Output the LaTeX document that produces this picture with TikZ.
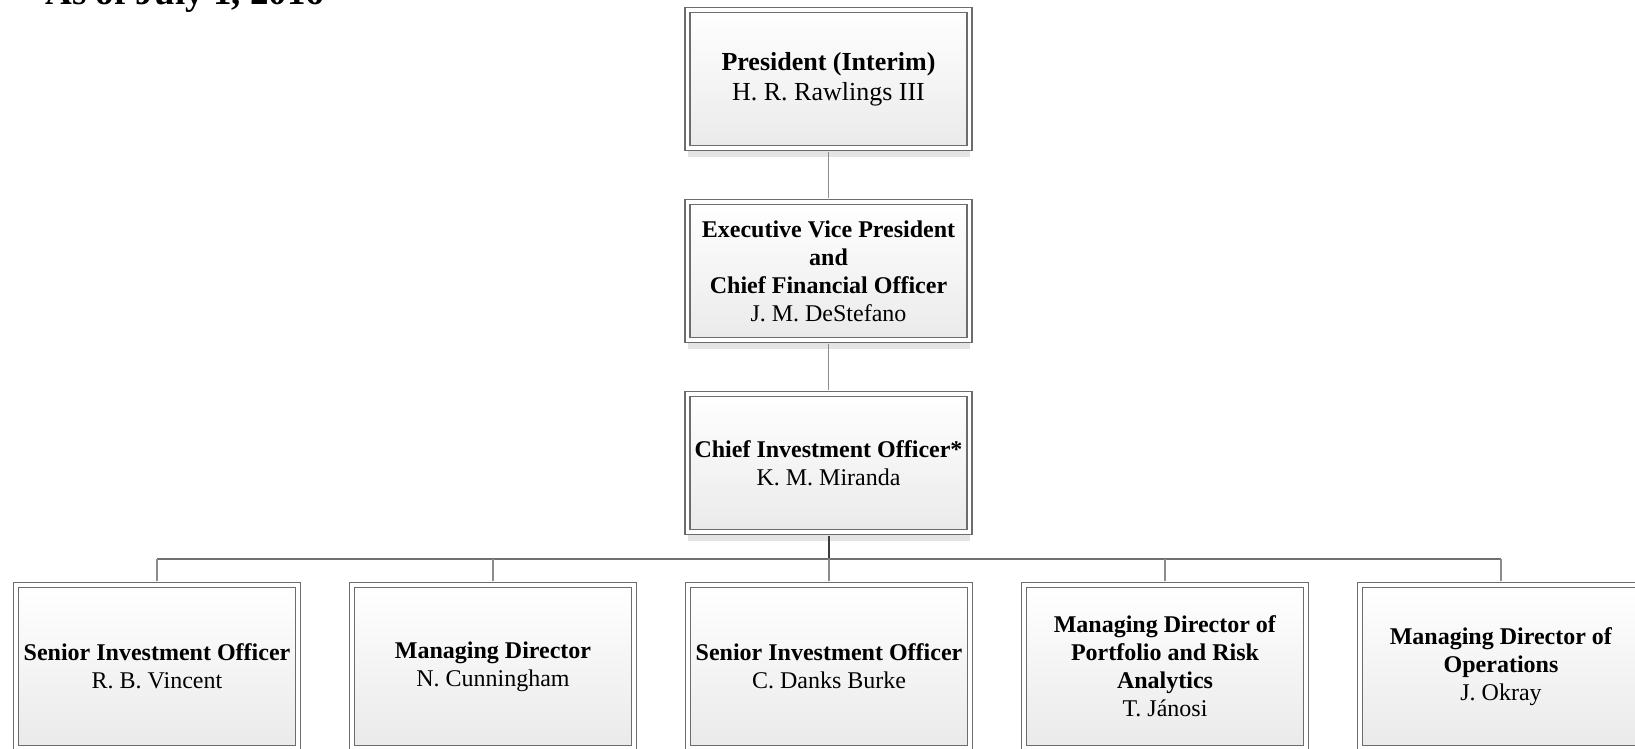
\documentclass[tikz,border=0pt]{standalone}
\usepackage{fontspec}
\setmainfont{Liberation Serif}
\usetikzlibrary{shadows}
\definecolor{boxline}{RGB}{108,108,108}
\definecolor{shadowgray}{RGB}{228,228,228}
\definecolor{fillbot}{RGB}{234,234,234}
\definecolor{connlight}{RGB}{140,140,140}
\definecolor{conndark}{RGB}{60,60,60}
\definecolor{barcol}{RGB}{112,112,112}
\begin{document}
\begin{tikzpicture}[x=1pt,y=-1pt,
  orgbox/.style={draw=boxline, double=white, double distance=3.5pt, line width=1.5pt,
    top color=white, bottom color=fillbot, minimum width=282pt, inner sep=0pt, align=center,
    general shadow={fill=shadowgray, shadow yshift=-9pt}},
  upperbox/.style={orgbox, minimum height=138pt, font=\fontsize{24}{28}\selectfont},
  lowerbox/.style={orgbox, minimum height=163pt, font=\fontsize{24}{28}\selectfont},
  conn/.style={draw=connlight, line width=1.3pt},
  bar/.style={draw=barcol, line width=1.5pt},
  darkconn/.style={draw=conndark, line width=2pt}]
\path[use as bounding box, fill=white] (0,0) rectangle (1635,749);
\clip (0,0) rectangle (1635,749);

\node[anchor=base west, font=\fontsize{37}{40}\selectfont\bfseries] (title) at (42,5) {As of July 1, 2016};

\node[orgbox, minimum height=138pt, font=\fontsize{26}{30}\selectfont] (pres) at (828.5,79)
  {\textbf{President (Interim)}\\ H. R. Rawlings III};
\node[upperbox] (evp) at (828.5,271)
  {\textbf{Executive Vice President}\\ \textbf{and}\\ \textbf{Chief Financial Officer}\\ J. M. DeStefano};
\node[upperbox] (cio) at (828.5,463)
  {\textbf{Chief Investment Officer*}\\ K. M. Miranda};

\node[lowerbox] (b1) at (157,666.5) {\textbf{Senior Investment Officer}\\ R. B. Vincent};
\node[lowerbox] (b2) at (493,666.5) {\textbf{Managing Director}\\ N. Cunningham};
\node[lowerbox] (b3) at (829,666.5) {\textbf{Senior Investment Officer}\\ C. Danks Burke};
\node[lowerbox] (b4) at (1165,666.5) {\textbf{Managing Director of}\\ \textbf{Portfolio and Risk}\\ \textbf{Analytics}\\ T. Jánosi};
\node[lowerbox] (b5) at (1501,666.5) {\textbf{Managing Director of}\\ \textbf{Operations}\\ J. Okray};

\coordinate (barL) at (157,559);
\coordinate (barR) at (1501,559);
\coordinate (junc) at (828.5,559);

\draw[conn, shorten <=3.3pt, shorten >=3.3pt] (pres.south) -- (evp.north);
\draw[conn, shorten <=3.3pt, shorten >=3.3pt] (evp.south) -- (cio.north);
\draw[darkconn, shorten <=3.3pt] (cio.south) -- (junc);
\draw[bar] (barL) -- (barR);
\draw[conn, shorten <=3.3pt] (b1.north) -- (b1.north |- barL);
\draw[conn, shorten <=3.3pt] (b2.north) -- (b2.north |- barL);
\draw[conn, shorten <=3.3pt] (b3.north) -- (b3.north |- barL);
\draw[conn, shorten <=3.3pt] (b4.north) -- (b4.north |- barL);
\draw[conn, shorten <=3.3pt] (b5.north) -- (b5.north |- barL);
\end{tikzpicture}
\end{document}
